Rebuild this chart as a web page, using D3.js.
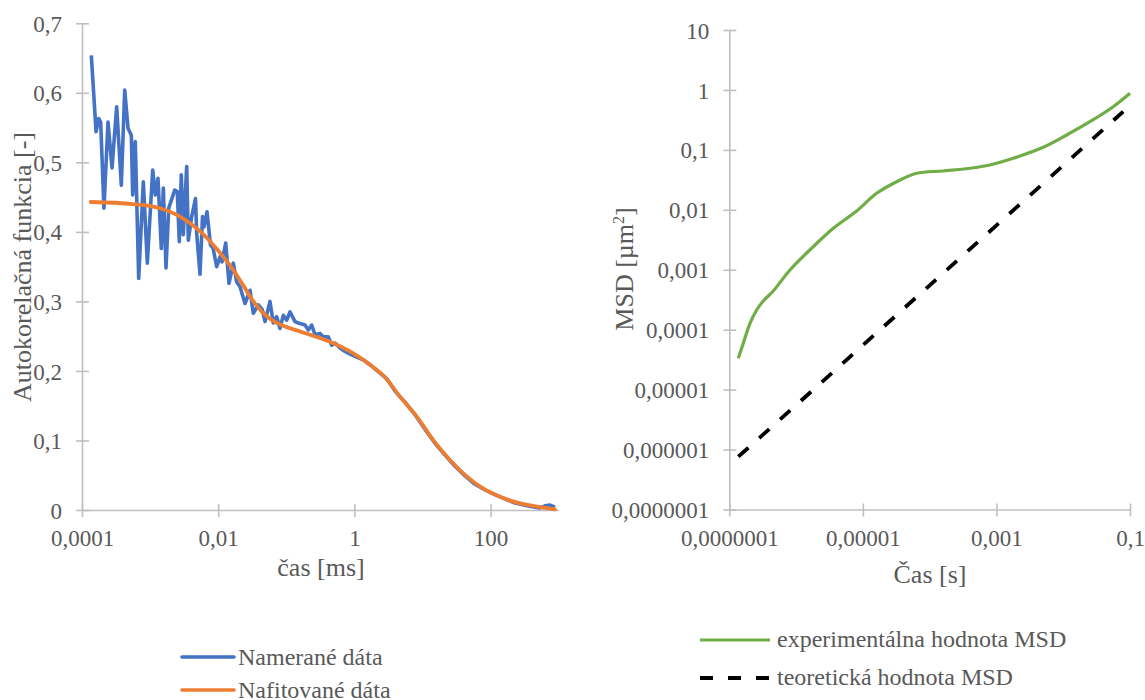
<!DOCTYPE html>
<html><head><meta charset="utf-8">
<script src="https://cdn.jsdelivr.net/npm/d3@7"></script>
<style>
body{margin:0;background:#fff}
svg{display:block}
text{font-family:"Liberation Serif","Times New Roman",serif;fill:#595959}
</style>
</head><body><svg id="c" width="1145" height="700"></svg>
<script>
// ---- Left chart: autocorrelation (time in ms) ----
const measuredTime = [1.37e-4,1.61e-4,1.76e-4,1.88e-4,2.10e-4,2.41e-4,2.76e-4,3.23e-4,3.78e-4,4.24e-4,4.74e-4,5.30e-4,5.55e-4,6.06e-4,6.80e-4,7.95e-4,9.10e-4,
  1.092e-3,1.192e-3,1.306e-3,1.460e-3,1.563e-3,1.712e-3,1.876e-3,2.297e-3,2.508e-3,2.684e-3,2.871e-3,3.073e-3,3.447e-3,3.638e-3,4.082e-3,4.642e-3,4.835e-3,5.404e-3,5.883e-3,6.188e-3,6.847e-3,7.706e-3,8.387e-3,9.506e-3,
  0.01063,0.01137,0.01289,0.01441,0.01666,0.01869,0.02090,0.02475,0.02931,0.03276,0.03880,0.04442,0.04867,0.05763,0.06443,0.07228,0.08081,0.09035,
  0.1014,0.1133,0.1342,0.1501,0.1882,0.2104,0.2360,0.2639,0.3126,0.3494,0.4137,0.4642,0.5190,0.6145,0.7278,0.9130,
  1.081,1.351,1.694,2.244,2.981,3.947,5.534,7.761,10.88,15.26,21.40,30.01,42.09,59.02,82.78,116.0,162.7,228.2,320.0,448.7,531.3,629.2,745.1,882.4];
const measuredValue = [0.654,0.544,0.563,0.558,0.434,0.558,0.492,0.580,0.467,0.604,0.549,0.539,0.453,0.530,0.333,0.472,0.355,
  0.489,0.453,0.477,0.376,0.463,0.348,0.434,0.460,0.458,0.386,0.482,0.396,0.494,0.388,0.422,0.448,0.398,0.339,0.422,0.407,0.429,0.381,0.377,0.350,
  0.364,0.357,0.384,0.326,0.355,0.328,0.321,0.297,0.316,0.283,0.295,0.288,0.271,0.300,0.269,0.278,0.261,0.280,
  0.273,0.285,0.271,0.269,0.266,0.259,0.266,0.252,0.254,0.249,0.249,0.237,0.240,0.233,0.228,0.223,
  0.220,0.216,0.209,0.199,0.189,0.171,0.155,0.137,0.116,0.096,0.079,0.063,0.049,0.037,0.029,0.022,0.016,0.010,0.007,0.004,0.003,0.006,0.007,0.004];
const fitTime = [1.342e-4,5.610e-4,1.398e-3,2.748e-3,5.404e-3,9.603e-3,0.01594,0.02236,0.03135,0.04397,0.06166,0.09570,0.1342,0.2228,0.4383,0.8616,
  1.694,2.814,4.672,8.304,14.27,25.34,45.03,77.34,137.4,244.2,419.4,882.4];
const fitValue = [0.443,0.440,0.434,0.422,0.401,0.375,0.348,0.326,0.303,0.285,0.273,0.264,0.259,0.252,0.242,0.228,
  0.209,0.191,0.163,0.134,0.101,0.072,0.048,0.031,0.019,0.0105,0.0058,0.001];
const leftXTicks = [1e-4,1e-2,1,100];
const leftXTickLabels = ["0,0001","0,01","1","100"];
const leftYTicks = [0,0.1,0.2,0.3,0.4,0.5,0.6,0.7];
const leftYTickLabels = ["0","0,1","0,2","0,3","0,4","0,5","0,6","0,7"];

// ---- Right chart: MSD (time in s) ----
const msdTime = [1.364e-7,1.620e-7,2.041e-7,2.572e-7,3.228e-7,4.557e-7,8.10e-7,1.809e-6,3.606e-6,6.41e-6,8.08e-6,1.609e-5,3.206e-5,6.39e-5,
  1.598e-4,4.012e-4,7.99e-4,1.784e-3,5.02e-3,0.01124,0.02510,0.05604,0.1];
const msdExp = [3.33e-5,5.93e-5,1.279e-4,2.133e-4,3.013e-4,4.43e-4,9.91e-4,2.427e-3,4.92e-3,7.88e-3,9.55e-3,0.01888,0.02944,0.04066,
  0.04446,0.04932,0.05597,0.07244,0.1104,0.177,0.2951,0.5248,0.88];
const theoryTime = [1.364e-7,1e-6,1e-5,1e-4,1e-3,1e-2,0.0791];
const theoryMsd = [7.6e-7,5.5e-6,5.5e-5,5.5e-4,5.5e-3,0.055,0.435];
const rightXTicks = [1e-7,1e-5,1e-3,0.1];
const rightXTickLabels = ["0,0000001","0,00001","0,001","0,1"];
const rightYTicks = [10,1,0.1,0.01,0.001,1e-4,1e-5,1e-6,1e-7];
const rightYTickLabels = ["10","1","0,1","0,01","0,001","0,0001","0,00001","0,000001","0,0000001"];

const AX = "#BFBFBF";
const svg = d3.select("#c");

function styleAxis(g, horizontal){
  g.select(".domain").attr("stroke", AX).attr("stroke-width", 1.6);
  g.selectAll(".tick line").attr("stroke", AX).attr("stroke-width", 1.6);
  if (horizontal) g.selectAll(".tick line").attr("y1", -6).attr("y2", 7);
  else g.selectAll(".tick line").attr("x1", -6).attr("x2", 7);
  g.selectAll(".tick text").style("font-family", '"Liberation Serif","Times New Roman",serif')
    .style("font-size", "23px").attr("fill", "#595959");
}

// Left scales
const lx = d3.scaleLog().domain([1e-4, 1e3]).range([82, 558.7]);
const ly = d3.scaleLinear().domain([0, 0.7]).range([510, 23.3]);

const lgx = svg.append("g").attr("transform", "translate(0,510)")
  .call(d3.axisBottom(lx).tickValues(leftXTicks).tickFormat((d,i)=>leftXTickLabels[i]).tickSizeOuter(0));
styleAxis(lgx, true);
lgx.selectAll(".tick text").attr("y", 36).attr("dy", 0);

const lgy = svg.append("g").attr("transform", "translate(82,0)")
  .call(d3.axisLeft(ly).tickValues(leftYTicks).tickFormat((d,i)=>leftYTickLabels[i]).tickSizeOuter(0));
styleAxis(lgy, false);
lgy.selectAll(".tick text").attr("x", -20).attr("dy", "0.35em");

const measured = measuredTime.map((t,i)=>[t, measuredValue[i]]);
const fit = fitTime.map((t,i)=>[t, fitValue[i]]);

svg.append("path").datum(measured)
  .attr("d", d3.line().x(d=>lx(d[0])).y(d=>ly(d[1])))
  .attr("fill","none").attr("stroke","#4472C4").attr("stroke-width",3.6).attr("stroke-linejoin","round");
svg.append("path").datum(fit)
  .attr("d", d3.line().curve(d3.curveMonotoneX).x(d=>lx(d[0])).y(d=>ly(d[1])))
  .attr("fill","none").attr("stroke","#ED7D31").attr("stroke-width",3.8).attr("stroke-linecap","round");

svg.append("text").attr("x", 321).attr("y", 576).attr("text-anchor","middle")
  .style("font-size","26px").text("čas [ms]");
svg.append("text").attr("transform","translate(31,267) rotate(-90)").attr("text-anchor","middle")
  .style("font-size","26px").text("Autokorelačná funkcia [-]");

// Left legend
const leftLegend = [
  {label:"Namerané dáta", color:"#4472C4", y:657},
  {label:"Nafitované dáta", color:"#ED7D31", y:690}
];
leftLegend.forEach(l=>{
  svg.append("line").attr("x1",182).attr("x2",234).attr("y1",l.y).attr("y2",l.y)
    .attr("stroke",l.color).attr("stroke-width",3.6).attr("stroke-linecap","round");
  svg.append("text").attr("x",238).attr("y",l.y+7.5).style("font-size","24px").text(l.label);
});

// Right scales
const rx = d3.scaleLog().domain([1e-7, 0.1]).range([729.3, 1130]);
const ry = d3.scaleLog().domain([1e-7, 10]).range([509.5, 30]);

const rgx = svg.append("g").attr("transform","translate(0,509.5)")
  .call(d3.axisBottom(rx).tickValues(rightXTicks).tickFormat((d,i)=>rightXTickLabels[i]).tickSizeOuter(0));
styleAxis(rgx, true);
rgx.selectAll(".tick text").attr("y", 36).attr("dy", 0);

const rgy = svg.append("g").attr("transform","translate(729.3,0)")
  .call(d3.axisLeft(ry).tickValues(rightYTicks).tickFormat((d,i)=>rightYTickLabels[i]).tickSizeOuter(0));
styleAxis(rgy, false);
rgy.selectAll(".tick text").attr("x", -20).attr("dy", "0.35em");

const msd = msdTime.map((t,i)=>[t, msdExp[i]]);
const theory = theoryTime.map((t,i)=>[t, theoryMsd[i]]);

svg.append("path").datum(msd)
  .attr("d", d3.line().curve(d3.curveCatmullRom.alpha(0.5)).x(d=>rx(d[0])).y(d=>ry(d[1])))
  .attr("fill","none").attr("stroke","#70AD47").attr("stroke-width",3.2);
svg.append("path").datum(theory)
  .attr("d", d3.line().x(d=>rx(d[0])).y(d=>ry(d[1])))
  .attr("fill","none").attr("stroke","#000").attr("stroke-width",3.8).attr("stroke-dasharray","13.5,14.5");

svg.append("text").attr("x", 930).attr("y", 583).attr("text-anchor","middle")
  .style("font-size","26px").text("Čas [s]");
const msdTitle = svg.append("text").attr("transform","translate(633,269) rotate(-90)").attr("text-anchor","middle")
  .style("font-size","26px");
msdTitle.append("tspan").text("MSD [µm");
msdTitle.append("tspan").attr("dy",-9).style("font-size","16px").text("2");
msdTitle.append("tspan").attr("dy",9).text("]");

// Right legend
const rightLegend = [
  {label:"experimentálna hodnota MSD", color:"#70AD47", y:640, dash:null, w:3.2},
  {label:"teoretická hodnota MSD", color:"#000", y:678, dash:"13,15", w:3.8}
];
rightLegend.forEach(l=>{
  svg.append("line").attr("x1",700).attr("x2",770).attr("y1",l.y).attr("y2",l.y)
    .attr("stroke",l.color).attr("stroke-width",l.w).attr("stroke-dasharray",l.dash);
  svg.append("text").attr("x",777).attr("y",l.y+7).style("font-size","24px").text(l.label);
});
</script>
</body></html>
